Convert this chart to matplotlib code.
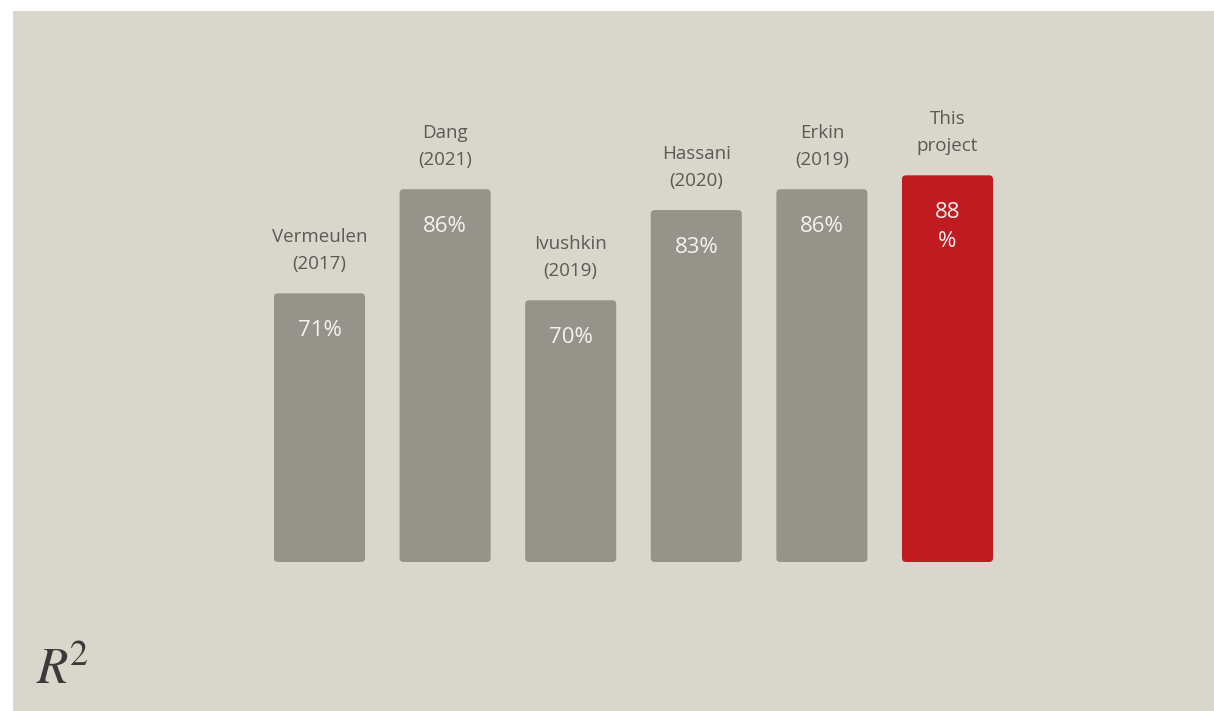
import matplotlib
matplotlib.use("Agg")
import matplotlib.pyplot as plt
from matplotlib.patches import FancyBboxPatch, Rectangle

# ---- data ----
names = ["Vermeulen", "Dang", "Ivushkin", "Hassani", "Erkin", "This"]
years = ["(2017)", "(2021)", "(2019)", "(2020)", "(2019)", "project"]
values = [71, 86, 70, 83, 86, 88]
value_labels = ["71%", "86%", "70%", "83%", "86%", "88\n%"]
highlight = [False, False, False, False, False, True]

BG = "#d9d7cb"
GREY = "#96948a"
RED = "#c11b22"
TXT = "#5a5a56"

plt.rcParams["font.family"] = ["Open Sans", "DejaVu Sans"]
plt.rcParams["mathtext.fontset"] = "stix"

W, H = 1214, 711
fig = plt.figure(figsize=(W / 100, H / 100), dpi=100, facecolor="white")
fig.patches.append(Rectangle((13 / W, 0), 1 - 13 / W, 1 - 11 / H,
                             transform=fig.transFigure, facecolor=BG,
                             edgecolor="none", zorder=-10))

ax = fig.add_axes([256.7 / W, 149 / H, 753.6 / W, 470 / H])
ax.set_facecolor("none")
ymin, ymax = 32.3, 100
ax.set_xlim(-0.5, len(values) - 0.5)
ax.set_ylim(ymin, ymax)
ax.axis("off")

bw = 0.725
xunit_px = 753.6 / 6
yunit_px = 470 / (ymax - ymin)
r = 4 / xunit_px
aspect = (4 / yunit_px) / r

for i, (v, hl) in enumerate(zip(values, highlight)):
    col = RED if hl else GREY
    p = FancyBboxPatch((i - bw / 2, ymin), bw, v - ymin,
                       boxstyle=f"round,pad=0,rounding_size={r}",
                       mutation_aspect=aspect, facecolor=col,
                       edgecolor="none", zorder=2)
    ax.add_patch(p)
    ax.annotate(years[i], (i, v), xytext=(0, 29), textcoords="offset pixels",
                ha="center", va="center", fontsize=13.5, color=TXT)
    ax.annotate(names[i], (i, v), xytext=(0, 56), textcoords="offset pixels",
                ha="center", va="center", fontsize=13.5, color=TXT)
    ax.annotate(value_labels[i], (i, v), xytext=(0, -27), textcoords="offset pixels",
                ha="center", va="top", fontsize=16, color="#f6f2ec",
                linespacing=1.45, zorder=3)

fig.text(36 / W, (H - 684) / H, r"$R^{\!2}$", fontsize=37, color="#3a3a3a",
         ha="left", va="baseline")

fig.savefig("out.png", dpi=100, facecolor=fig.get_facecolor())
